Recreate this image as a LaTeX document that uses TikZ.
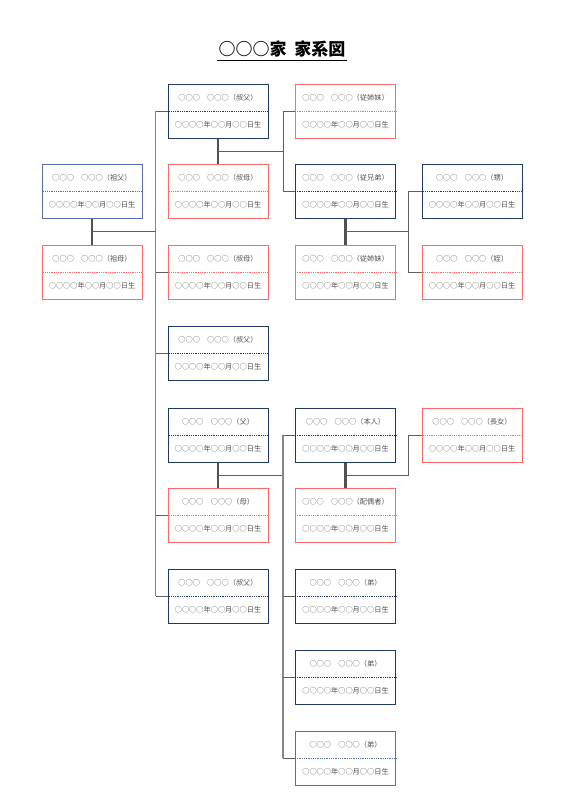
\documentclass[tikz,border=0pt]{standalone}
\usepackage{fontspec}
\setmainfont{Noto Sans CJK JP}
\usepackage{tikz}
\usetikzlibrary{positioning, calc}
\usepackage{xcolor}
\definecolor{fmNavy}  {RGB}{32,  56,  100}
\definecolor{fmBlue}  {RGB}{88,  108, 165}
\definecolor{fmRed}   {RGB}{255, 105, 105}
\definecolor{fmLine}  {RGB}{95,  95,  95}
\definecolor{fmText}  {RGB}{80,  80,  80}

% one card: name, x, y, colour, relation
\newcommand{\famcard}[5]{%
  \node[card, draw=#4] (#1) at (#2,#3) {};
  \draw[divider, draw=#4] (#1.west) -- (#1.east);
  \node[cardtext] at ([yshift=13.5pt]#1.center) {○○○　○○○（#5）};
  \node[cardtext] at ([yshift=-13.5pt]#1.center) {○○○○年○○月○○日生};
}

\begin{document}
\begin{tikzpicture}[x=1pt, y=-1pt,
  card/.style={rectangle, line width=1pt, fill=white,
    minimum width=100pt, minimum height=54pt, inner sep=0pt},
  divider/.style={line width=0.5pt, dash pattern=on 1pt off 0.8pt},
  cardtext/.style={font=\fontsize{7.2}{8}\selectfont, text=fmText, inner sep=0pt},
  link/.style={draw=fmLine, line width=0.9pt},
  trunk/.style={draw=fmLine!75, line width=1.6pt},
  couple/.style={draw=fmLine!85!black, line width=2.6pt}]
  \useasboundingbox (0,0) rectangle (565,800);
  \def\cA{92}  \def\cB{218}  \def\cC{345.5}  \def\cD{472}

  % ---- Title ----
  \node[font=\fontsize{17}{19}\selectfont\bfseries, inner sep=1pt] (title) at (282,49)
    {○○○家\hspace{0.45em}家系図};
  \draw[line width=1.2pt] ([yshift=-2pt]title.south west) -- ([yshift=-2pt]title.south east);

  % ---- Grandparents ----
  \famcard{gf}{\cA}{191}{fmBlue}{祖父}
  \famcard{gm}{\cA}{272}{fmRed}{祖母}

  % ---- Parents' generation ----
  \famcard{u1}{\cB}{111}{fmNavy}{叔父}
  \famcard{a1}{\cB}{191}{fmRed}{叔母}
  \famcard{a2}{\cB}{272}{fmRed}{叔母}
  \famcard{u2}{\cB}{353}{fmNavy}{叔父}
  \famcard{fa}{\cB}{435}{fmNavy}{父}
  \famcard{mo}{\cB}{515}{fmRed}{母}
  \famcard{u3}{\cB}{596}{fmNavy}{叔父}

  % ---- Own generation ----
  \famcard{c1}{\cC}{111}{fmRed}{従姉妹}
  \famcard{c2}{\cC}{191}{fmNavy}{従兄弟}
  \famcard{c3}{\cC}{272}{fmRed}{従姉妹}
  \famcard{me}{\cC}{435}{fmNavy}{本人}
  \famcard{sp}{\cC}{515}{fmRed}{配偶者}
  \famcard{b1}{\cC}{596}{fmNavy}{弟}
  \famcard{b2}{\cC}{677}{fmNavy}{弟}
  \famcard{b3}{\cC}{758}{fmBlue}{弟}

  % ---- Children ----
  \famcard{n1}{\cD}{191}{fmNavy}{甥}
  \famcard{n2}{\cD}{272}{fmRed}{姪}
  \famcard{d1}{\cD}{435}{fmRed}{長女}

  % ---- Couples ----
  \foreach \a/\b in {gf/gm, u1/a1, c2/c3, fa/mo, me/sp}
    \draw[couple] (\a.south) -- (\b.north);

  % ---- Grandparents -> children ----
  \coordinate (tA) at ([xshift=-12pt]u1.west);
  \coordinate (tB) at ([xshift=-12pt]u3.west);
  \coordinate (gfm) at ($(gf.south)!0.5!(gm.north)$);
  \draw[trunk] (tA) -- (tB);
  \draw[link] (gfm) -- (gfm -| tA);
  \foreach \k in {u1, a2, u2, mo, u3}
    \draw[link] (\k.west -| tA) -- (\k.west);

  % ---- Uncle -> cousins ----
  \coordinate (tC) at ([xshift=-12pt]c1.west);
  \coordinate (u1m) at ($(u1.south)!0.5!(a1.north)$);
  \draw[link] (u1m) -- (u1m -| tC);
  \draw[link] (c1.west) -- (tC) |- (c2.west);

  % ---- Cousin -> nephew, niece ----
  \coordinate (tD) at ([xshift=-13pt]n1.west);
  \coordinate (c2m) at ($(c2.south)!0.5!(c3.north)$);
  \draw[link] (c2m) -- (c2m -| tD);
  \draw[link] (n1.west) -- (tD) |- (n2.west);

  % ---- Parents -> me, brothers ----
  \coordinate (tE) at ([xshift=-12pt]me.west);
  \coordinate (fam) at ($(fa.south)!0.5!(mo.north)$);
  \draw[link] (fam) -- (fam -| tE);
  \draw[trunk] (tE) -- (tE |- b3.west);
  \foreach \k in {me, b1, b2, b3}
    \draw[link] (\k.west -| tE) -- (\k.west);

  % ---- Me -> daughter ----
  \coordinate (tF) at ([xshift=-13pt]d1.west);
  \coordinate (mem) at ($(me.south)!0.5!(sp.north)$);
  \draw[link] (mem) -- (mem -| tF) -- (tF) -- (d1.west);
\end{tikzpicture}
\end{document}
